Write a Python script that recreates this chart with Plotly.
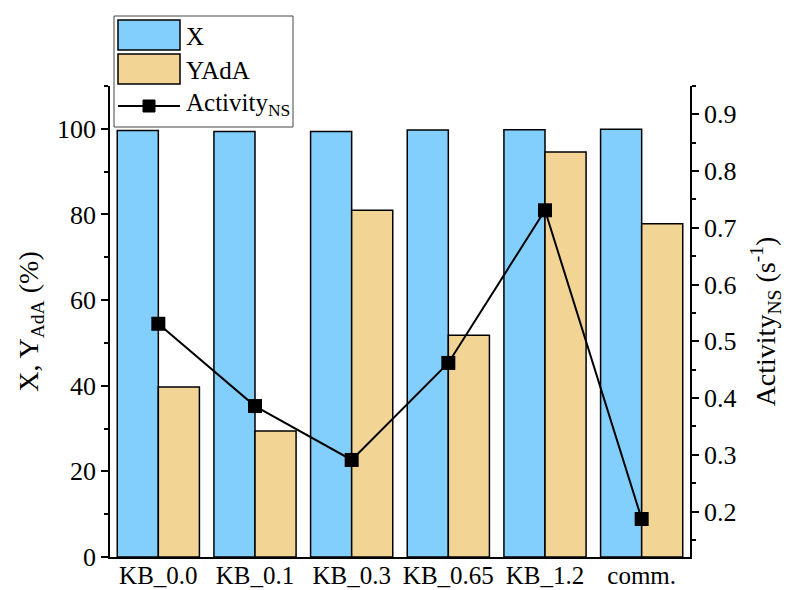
import plotly.graph_objects as go

categories = ["KB_0.0", "KB_0.1", "KB_0.3", "KB_0.65", "KB_1.2", "comm."]
x_conv = [99.6, 99.4, 99.4, 99.7, 99.8, 99.9]
y_ada = [39.7, 29.4, 81.0, 51.8, 94.6, 77.8]
activity = [0.531, 0.386, 0.291, 0.462, 0.731, 0.187]

FONT = "Liberation Serif"
BLUE = "#82CFFD"
TAN = "#F2D595"

# plot area in pixels
L, R, T, B = 110, 690, 86, 557
W, H = 786, 590


def px(x):
    return (x - L) / (R - L)


def py(y):
    return (B - y) / (B - T)


fig = go.Figure()
fig.add_trace(go.Bar(x=categories, y=x_conv, name="X", marker=dict(color=BLUE, line=dict(color="black", width=1.5)), yaxis="y"))
fig.add_trace(go.Bar(x=categories, y=y_ada, name="YAdA", marker=dict(color=TAN, line=dict(color="black", width=1.5)), yaxis="y"))
fig.add_trace(go.Scatter(x=categories, y=activity, name="Activity", mode="lines+markers",
                         line=dict(color="black", width=2),
                         marker=dict(symbol="square", size=14, color="black"), yaxis="y2"))

shapes = []
annotations = []
# legend box
shapes.append(dict(type="rect", xref="paper", yref="paper", x0=px(114), x1=px(293), y0=py(127), y1=py(16),
                   line=dict(color="#444", width=1), fillcolor="white", layer="above"))
shapes.append(dict(type="rect", xref="paper", yref="paper", x0=px(118), x1=px(180), y0=py(50), y1=py(20),
                   line=dict(color="black", width=1.5), fillcolor=BLUE, layer="above"))
shapes.append(dict(type="rect", xref="paper", yref="paper", x0=px(118), x1=px(180), y0=py(84), y1=py(54),
                   line=dict(color="black", width=1.5), fillcolor=TAN, layer="above"))
shapes.append(dict(type="line", xref="paper", yref="paper", x0=px(118), x1=px(180), y0=py(106), y1=py(106),
                   line=dict(color="black", width=2), layer="above"))
shapes.append(dict(type="rect", xref="paper", yref="paper", x0=px(143), x1=px(155), y0=py(112), y1=py(100),
                   line=dict(color="black", width=1), fillcolor="black", layer="above"))
for txt, yy in [("X", 36), ("YAdA", 70), ("Activity<sub>NS</sub>", 104)]:
    annotations.append(dict(text=txt, xref="paper", yref="paper", x=px(184), y=py(yy), xanchor="left", yanchor="middle",
                            showarrow=False, font=dict(family=FONT, size=25, color="black")))

fig.update_layout(
    width=W, height=H,
    margin=dict(l=L, r=W - R, t=T, b=H - B, autoexpand=False),
    paper_bgcolor="white", plot_bgcolor="white",
    barmode="group", bargap=0.15, bargroupgap=0,
    showlegend=False,
    font=dict(family=FONT, size=26, color="black"),
    xaxis=dict(showline=True, linecolor="black", linewidth=1.5, ticks="", showgrid=False, automargin=False,
               tickfont=dict(size=25), ticklabelstandoff=-5),
    yaxis=dict(range=[0, 110], showline=True, linecolor="black", linewidth=1.5, ticks="outside", ticklen=7,
               tickwidth=1.5, tickcolor="black", dtick=20, showgrid=False, zeroline=False, automargin=False,
               tickfont=dict(size=26),
               minor=dict(ticks="outside", ticklen=4, tickwidth=1.5, tickcolor="black", dtick=10),
               title=dict(text="X, Y<sub>AdA</sub> (%)", font=dict(size=28), standoff=10)),
    yaxis2=dict(range=[0.12, 0.95], overlaying="y", side="right", showline=True, linecolor="black", linewidth=1.5,
                ticks="outside", ticklen=7, tickwidth=1.5, tickcolor="black", dtick=0.1, tick0=0,
                showgrid=False, zeroline=False, tickfont=dict(size=26), automargin=False,
                minor=dict(ticks="outside", ticklen=4, tickwidth=1.5, tickcolor="black", dtick=0.05),
                title=dict(text="Activity<sub>NS</sub> (s<sup>-1</sup>)", font=dict(size=28), standoff=20)),
    shapes=shapes, annotations=annotations,
)

fig.write_html("out.html")
